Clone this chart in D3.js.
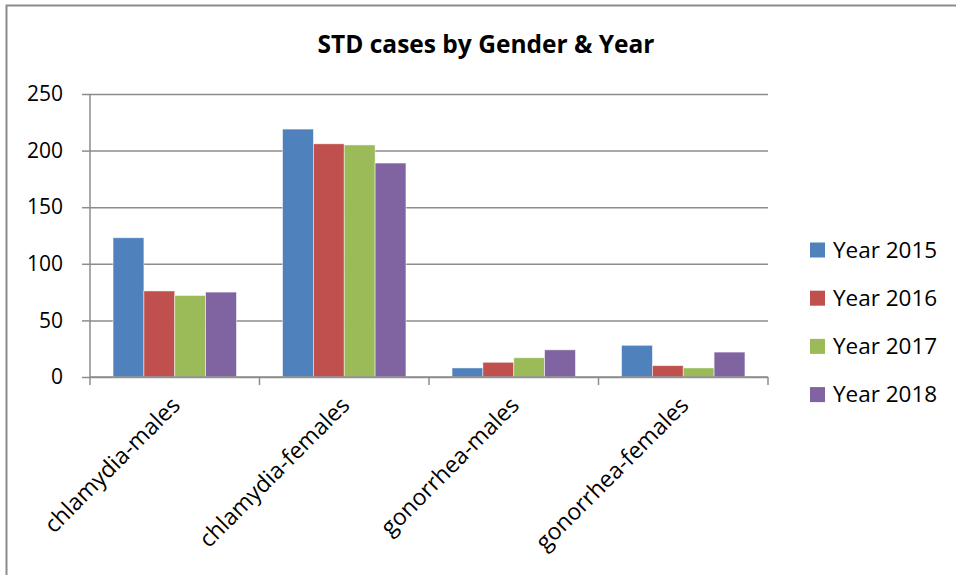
<!DOCTYPE html>
<html>
<head>
<meta charset="utf-8">
<script src="https://cdn.jsdelivr.net/npm/d3@7/dist/d3.min.js"></script>
<style>
  html, body { margin: 0; padding: 0; background: #fff; }
  svg { display: block; }
  text { font-family: "Open Sans", "Liberation Sans", sans-serif; fill: #000; }
</style>
</head>
<body>
<svg id="chart" width="956" height="575"></svg>
<script>
const categories = ["chlamydia-males", "chlamydia-females", "gonorrhea-males", "gonorrhea-females"];
const seriesNames = ["Year 2015", "Year 2016", "Year 2017", "Year 2018"];
const year2015 = [123, 219, 8, 28];
const year2016 = [76, 206, 13, 10];
const year2017 = [72, 205, 17, 8];
const year2018 = [75, 189, 24, 22];
const yTicks = [0, 50, 100, 150, 200, 250];
const colors = ["#4F81BD", "#C0504D", "#9BBB59", "#8064A2"];
const title = "STD cases by Gender & Year";

const seriesValues = [year2015, year2016, year2017, year2018];

const svg = d3.select("#chart");
svg.append("rect").attr("width", 956).attr("height", 575).attr("fill", "#fff");

// outer frame (top and left edges visible)
svg.append("path")
  .attr("d", "M6.5,575 V5.5 H956")
  .attr("fill", "none").attr("stroke", "#8c8c8c").attr("stroke-width", 2);

const plot = { left: 90, right: 768, top: 94, bottom: 377 };

const y = d3.scaleLinear().domain([0, 250]).range([plot.bottom, plot.top]);
const x0 = d3.scaleBand().domain(categories).range([plot.left, plot.right]).paddingInner(0).paddingOuter(0);
const gap = x0.bandwidth() * 0.136;
const x1 = d3.scaleBand().domain(seriesNames).range([gap, x0.bandwidth() - gap]).padding(0);

// gridlines
const grid = svg.append("g")
  .attr("transform", `translate(${plot.left},0)`)
  .call(d3.axisLeft(y).tickValues(yTicks).tickSize(-(plot.right - plot.left)).tickFormat(""));
grid.select(".domain").remove();
grid.selectAll("line").attr("stroke", "#8c8c8c").attr("stroke-width", 1.5);

// bars
const groups = svg.append("g").selectAll("g")
  .data(categories)
  .join("g")
  .attr("transform", d => `translate(${x0(d)},0)`);

groups.selectAll("rect")
  .data((c, ci) => seriesNames.map((s, si) => ({ s, si, v: seriesValues[si][ci] })))
  .join("rect")
  .attr("x", d => x1(d.s))
  .attr("y", d => y(d.v))
  .attr("width", x1.bandwidth())
  .attr("height", d => y(0) - y(d.v))
  .attr("fill", d => colors[d.si])
  .attr("stroke", "#ffffff")
  .attr("stroke-opacity", 0.6)
  .attr("stroke-width", 0.8);

// y axis
const yAxis = svg.append("g")
  .attr("transform", `translate(${plot.left},0)`)
  .call(d3.axisLeft(y).tickValues(yTicks).tickSize(8).tickPadding(19).tickFormat(d3.format("d")));
yAxis.select(".domain").attr("stroke", "#8c8c8c").attr("stroke-width", 1.5)
  .attr("d", `M0,${plot.top}V${plot.bottom}`);
yAxis.selectAll("line").attr("stroke", "#8c8c8c").attr("stroke-width", 1.5);
yAxis.selectAll("text").attr("font-size", 21).attr("fill", "#000")
  .style("font-family", "'Open Sans', 'Liberation Sans', sans-serif");

// x axis
const xAxis = svg.append("g")
  .attr("transform", `translate(0,${plot.bottom})`);
xAxis.append("line")
  .attr("x1", plot.left).attr("x2", plot.right)
  .attr("stroke", "#8c8c8c").attr("stroke-width", 1.5);
const edges = categories.map(c => x0(c)).concat([x0(categories[categories.length - 1]) + x0.bandwidth()]);
xAxis.selectAll("line.tick")
  .data(edges)
  .join("line")
  .attr("class", "tick")
  .attr("x1", d => d).attr("x2", d => d)
  .attr("y1", 0).attr("y2", 8)
  .attr("stroke", "#8c8c8c").attr("stroke-width", 1.5);

xAxis.selectAll("text.cat")
  .data(categories)
  .join("text")
  .attr("class", "cat")
  .attr("transform", d => `translate(${x0(d) + x0.bandwidth() / 2 + 1},${24}) rotate(-45)`)
  .attr("text-anchor", "end")
  .attr("dy", "0.35em")
  .attr("font-size", 23)
  .text(d => d);

// title
svg.append("text")
  .attr("x", 486).attr("y", 53)
  .attr("text-anchor", "middle")
  .attr("font-size", 24.5)
  .attr("font-weight", "bold")
  .text(title);

// legend
const legend = svg.append("g").selectAll("g")
  .data(seriesNames)
  .join("g")
  .attr("transform", (d, i) => `translate(810,${250 + i * 48.2})`);
legend.append("rect")
  .attr("x", 0).attr("y", -7.5).attr("width", 15).attr("height", 15)
  .attr("fill", (d, i) => colors[i]);
legend.append("text")
  .attr("x", 23).attr("dy", "0.35em")
  .attr("font-size", 22.5)
  .text(d => d);
</script>
</body>
</html>
